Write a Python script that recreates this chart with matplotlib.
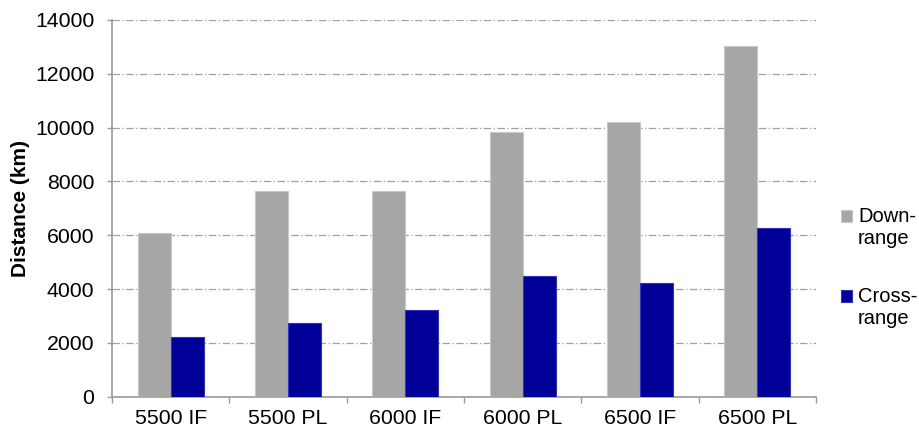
import matplotlib
matplotlib.use("Agg")
import matplotlib.pyplot as plt
import numpy as np

categories = ["5500 IF", "5500 PL", "6000 IF", "6000 PL", "6500 IF", "6500 PL"]
downrange = [6100, 7630, 7630, 9840, 10210, 13020]
crossrange = [2230, 2750, 3220, 4490, 4230, 6280]
series_labels = ["Down-\nrange", "Cross-\nrange"]
yticks = [0, 2000, 4000, 6000, 8000, 10000, 12000, 14000]

plt.rcParams['font.family'] = ['Liberation Sans', 'DejaVu Sans']

fig = plt.figure(figsize=(9.2, 4.32), dpi=100)
ax = fig.add_axes([112/920, 1-396.7/432, (816-112)/920, (396.7-20)/432])

x = np.arange(len(categories))
w = 0.28
b1 = ax.bar(x - w/2, downrange, w, color="#a6a6a6", edgecolor="#c8c8c8", linewidth=0.8,
            label=series_labels[0], zorder=3)
b2 = ax.bar(x + w/2, crossrange, w, color="#000099", edgecolor="#3333bb", linewidth=0.8,
            label=series_labels[1], zorder=3)

ax.set_xlim(-0.5, len(categories) - 0.5)
ax.set_ylim(0, 14000)
ax.set_yticks(yticks)
ax.set_yticklabels([str(v) for v in yticks], fontsize=15.3)
ax.set_xticks(x)
ax.set_xticklabels(categories, fontsize=15.3)
ax.tick_params(axis='x', length=0, pad=9)
ax.set_xticks(np.arange(-0.5, len(categories)), minor=True)
ax.tick_params(axis='x', which='minor', length=4.5, color="#999999", width=1)
ax.tick_params(axis='y', length=3.6, color="#999999", width=1, pad=9)

ax.yaxis.grid(True, linestyle=(0, (6, 2, 1, 2)), color="#a0a0a0", linewidth=0.9, zorder=0)
ax.set_axisbelow(True)
for s in ["top", "right"]:
    ax.spines[s].set_visible(False)
for s in ["left", "bottom"]:
    ax.spines[s].set_color("#999999")
    ax.spines[s].set_linewidth(1.2)

ax.set_ylabel("Distance (km)", fontsize=15, fontweight="bold", labelpad=4)

leg_fs = 14.5
leg = fig.legend(handles=[b1, b2], labels=series_labels, loc="upper left",
                 bbox_to_anchor=(841/920, 0.521), frameon=False, fontsize=leg_fs,
                 handlelength=0.55, handleheight=0.55, handletextpad=0.3,
                 labelspacing=1.95, borderaxespad=0, borderpad=0)
# align legend squares with the first line of each two-line label
for h in leg.legend_handles:
    h.set_y(h.get_y() + 0.6 * leg_fs)

fig.savefig("out.png", dpi=100)
